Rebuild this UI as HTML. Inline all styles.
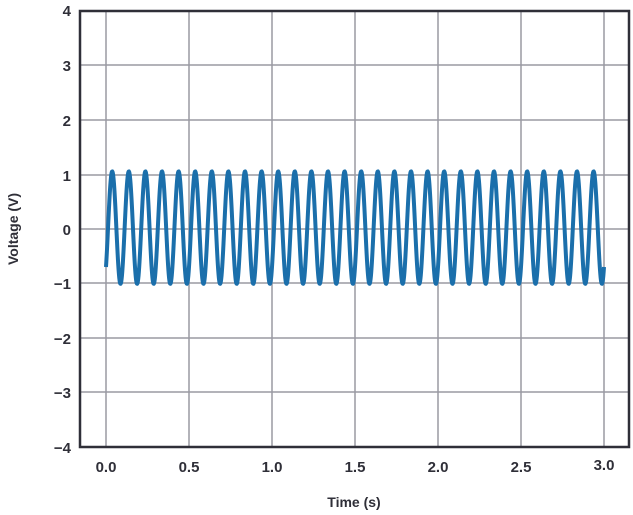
<!DOCTYPE html>
<html><head><style>body{margin:0;background:#fff}svg{display:block}</style></head><body>
<svg width="633" height="515" xmlns="http://www.w3.org/2000/svg" font-family="Liberation Sans, sans-serif">
<g stroke="#9a9aa2" stroke-width="1.5">
<line x1="79" y1="65" x2="629" y2="65"/><line x1="79" y1="120" x2="629" y2="120"/><line x1="79" y1="175" x2="629" y2="175"/><line x1="79" y1="229" x2="629" y2="229"/><line x1="79" y1="283" x2="629" y2="283"/><line x1="79" y1="338" x2="629" y2="338"/><line x1="79" y1="392" x2="629" y2="392"/>
<line x1="106" y1="10" x2="106" y2="447"/><line x1="189" y1="10" x2="189" y2="447"/><line x1="272" y1="10" x2="272" y2="447"/><line x1="355" y1="10" x2="355" y2="447"/><line x1="438" y1="10" x2="438" y2="447"/><line x1="521" y1="10" x2="521" y2="447"/><line x1="604" y1="10" x2="604" y2="447"/>
</g>
<rect x="80" y="11" width="549" height="436" fill="none" stroke="#2f2f38" stroke-width="2.5"/>
<path id="w" fill="none" stroke="#1b6fab" stroke-width="4" stroke-linejoin="round"/>
<g font-size="15" font-weight="bold" fill="#2f2f38" text-anchor="end">
<text x="71" y="16">4</text><text x="71" y="71">3</text><text x="71" y="126">2</text><text x="71" y="181">1</text><text x="71" y="235">0</text><text x="71" y="289">−1</text><text x="71" y="344">−2</text><text x="71" y="398">−3</text><text x="71" y="453">−4</text>
</g>
<g font-size="15" font-weight="bold" fill="#2f2f38" text-anchor="middle">
<text x="106" y="472">0.0</text><text x="189" y="472">0.5</text><text x="272" y="472">1.0</text><text x="355" y="472">1.5</text><text x="438" y="472">2.0</text><text x="521" y="472">2.5</text><text x="604" y="470">3.0</text>
<text x="354" y="507" font-size="14">Time (s)</text>
<text transform="translate(18,229) rotate(-90)" font-size="14">Voltage (V)</text>
</g>
<script>
var d="";for(var i=0;i<=1500;i++){var t=i*3/1500;var v=0.025+1.03*Math.sin(2*Math.PI*10*t-0.775);var x=106+t*166;var y=229-v*54.6;d+=(i?"L":"M")+x.toFixed(2)+" "+y.toFixed(2);}
document.getElementById("w").setAttribute("d",d);
</script>
</svg>
</body></html>
